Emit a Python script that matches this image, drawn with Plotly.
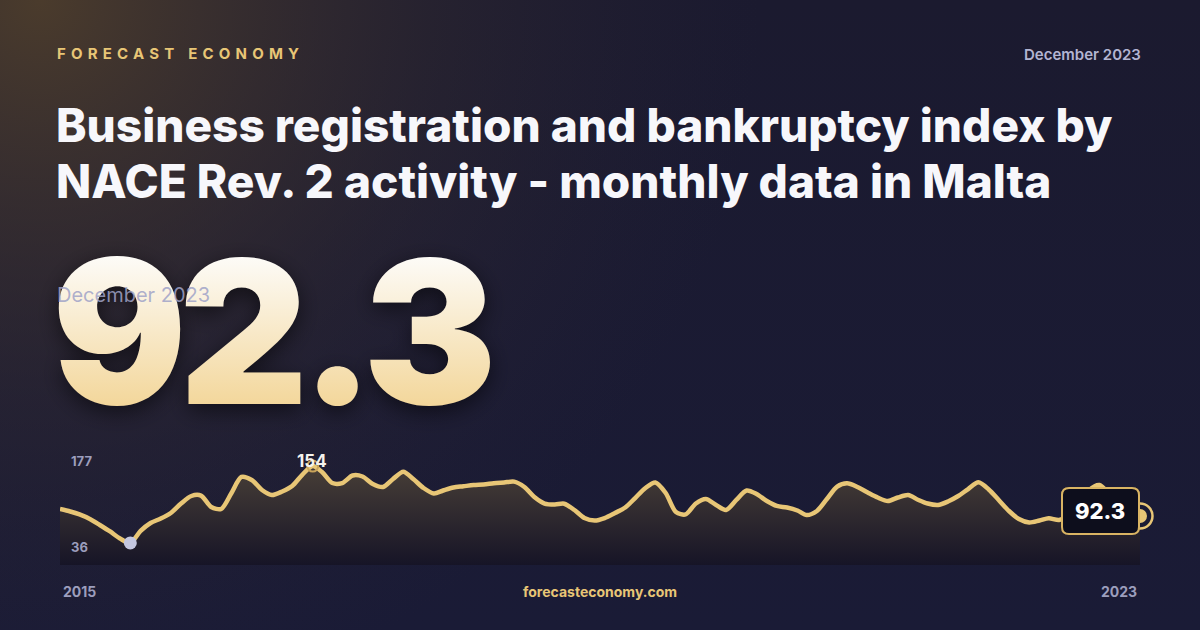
import base64
import pandas as pd
import plotly.graph_objects as go

# ---------------- data ----------------
months = pd.date_range("2015-01-01", "2023-12-01", freq="MS")
index_values = [
    101.0, 97.9, 94.2, 88.6, 81.2, 73.2, 64.5, 59.0, 73.8, 83.7,
    89.2, 96.0, 107.7, 117.0, 117.5, 103.4, 101.0, 120.7, 140.5, 136.8,
    124.4, 118.2, 122.6, 129.3, 143.5, 154.0, 146.6, 133.0, 133.0, 142.3,
    141.1, 131.8, 128.1, 138.0, 147.0, 138.0, 126.9, 120.1, 123.8, 127.5,
    129.0, 130.6, 131.2, 132.7, 133.7, 134.7, 128.1, 115.8, 107.7, 106.5,
    107.5, 99.7, 89.8, 86.8, 89.8, 96.0, 102.8, 114.5, 126.9, 133.7,
    120.7, 97.2, 94.2, 107.7, 113.3, 105.9, 99.7, 112.1, 123.8, 119.5,
    110.8, 104.7, 102.8, 99.1, 93.5, 98.5, 113.3, 128.7, 132.7, 128.1,
    121.3, 115.1, 110.8, 115.1, 118.2, 112.1, 107.7, 105.9, 110.2, 117.0,
    125.6, 133.9, 125.0, 112.1, 98.5, 88.6, 84.3, 86.8, 89.5, 87.4,
    93.5, 105.9, 124.4, 130.6, 118.2, 102.2, 93.5, 92.3,
]
brand_label = "FORECAST ECONOMY"
period_label = "December 2023"
title_lines = ["Business registration and bankruptcy index by",
               "NACE Rev. 2 activity - monthly data in Malta"]
latest_value_text = "92.3"
axis_top_label = "177"
axis_bottom_label = "36"
start_year_label = "2015"
end_year_label = "2023"
site_label = "forecasteconomy.com"

W, H = 1200, 630
GOLD = "#e8c676"
MUTED = "#9c9ebd"


def px(x):
    return x / W


def py(y):
    return 1 - y / H


# ---------------- background ----------------
bg_svg = """<svg xmlns='http://www.w3.org/2000/svg' width='1200' height='630' viewBox='0 0 1200 630'>
<defs>
<linearGradient id='b' x1='0' y1='0' x2='0' y2='1'>
<stop offset='0' stop-color='#1b1a2f'/><stop offset='1' stop-color='#1a1b36'/></linearGradient>
<radialGradient id='r' cx='40' cy='0' r='720' gradientUnits='userSpaceOnUse'>
<stop offset='0' stop-color='#4d3d2c' stop-opacity='0.95'/>
<stop offset='0.55' stop-color='#3a3030' stop-opacity='0.35'/>
<stop offset='1' stop-color='#2a2535' stop-opacity='0'/></radialGradient>
</defs>
<rect width='1200' height='630' fill='url(#b)'/>
<rect width='1200' height='630' fill='url(#r)'/>
</svg>"""
bg_uri = "data:image/svg+xml;base64," + base64.b64encode(bg_svg.encode()).decode()

fig = go.Figure()

# area + line
fig.add_trace(go.Scatter(
    x=months, y=index_values, mode="lines",
    line=dict(color=GOLD, width=4.5, shape="spline", smoothing=0.8),
    fill="tozeroy",
    fillgradient=dict(type="vertical", start=31.8, stop=160,
                      colorscale=[[0, "rgba(22,20,38,0.95)"], [1, "rgba(76,66,56,0.97)"]]),
    hoverinfo="skip", showlegend=False,
))

# min marker
imin = index_values.index(min(index_values))
fig.add_trace(go.Scatter(
    x=[months[imin]], y=[index_values[imin]], mode="markers",
    marker=dict(size=13, color="#c4c7e0"), cliponaxis=False,
    hoverinfo="skip", showlegend=False,
))
# max marker (ring)
imax = index_values.index(max(index_values))
fig.add_trace(go.Scatter(
    x=[months[imax]], y=[index_values[imax]], mode="markers",
    marker=dict(size=11, color="rgba(0,0,0,0)", line=dict(color="#c9a45a", width=2)),
    cliponaxis=False, hoverinfo="skip", showlegend=False,
))
# last point marker: ring
fig.add_trace(go.Scatter(
    x=[months[-1]], y=[index_values[-1]], mode="markers",
    marker=dict(size=25, symbol="circle", color="rgba(0,0,0,0)", line=dict(color=GOLD, width=2.5)),
    cliponaxis=False, hoverinfo="skip", showlegend=False,
))

# rounded box for latest value (path in paper coords)
bx0, bx1, by0, by1, r = 1062, 1139, 488, 534, 7
rx, ry = r / W, r / H
path = (f"M {px(bx0)+rx},{py(by0)} L {px(bx1)-rx},{py(by0)} "
        f"Q {px(bx1)},{py(by0)} {px(bx1)},{py(by0)-ry} "
        f"L {px(bx1)},{py(by1)+ry} Q {px(bx1)},{py(by1)} {px(bx1)-rx},{py(by1)} "
        f"L {px(bx0)+rx},{py(by1)} Q {px(bx0)},{py(by1)} {px(bx0)},{py(by1)+ry} "
        f"L {px(bx0)},{py(by0)-ry} Q {px(bx0)},{py(by0)} {px(bx0)+rx},{py(by0)} Z")
fig.add_shape(type="path", path=path, xref="paper", yref="paper",
              fillcolor="#0d0e1c", line=dict(color="#d9b463", width=2), layer="above")

fig.add_trace(go.Scatter(
    x=[months[-1]], y=[index_values[-1]], mode="markers",
    marker=dict(size=14, symbol="circle", color=GOLD, line=dict(width=0)),
    cliponaxis=False, hoverinfo="skip", showlegend=False,
))


def ann(text, x, y, size, color, weight=400, xanchor="left", yanchor="middle",
        family="Inter, Roboto, sans-serif", **kw):
    fig.add_annotation(text=text, x=px(x), y=py(y), xref="paper", yref="paper",
                       xanchor=xanchor, yanchor=yanchor, showarrow=False,
                       font=dict(size=size, color=color, family=family, weight=weight),
                       **kw)


# header
ann(f'<span style="letter-spacing:5.2px">{brand_label}</span>', 55, 53, 15, GOLD, 700)
ann(period_label, 1143, 54, 15, "#b3b5d2", 600, xanchor="right")
ann(title_lines[0], 54, 125, 46, "#f7f7fb", 800)
ann(title_lines[1], 54, 180.5, 46, "#f7f7fb", 800)

# big number
ann(f'<span style="letter-spacing:-8px">{latest_value_text}</span>', 50, 331, 200,
    "#f6e6bf", 900, family="Inter, sans-serif")
fig.layout.annotations[-1].font.shadow = "0px 6px 22px rgba(0,0,0,0.55)"
ann(period_label, 55, 295, 20, "rgba(160,163,200,0.85)", 400)

# chart labels
ann(axis_top_label, 69, 461, 13, MUTED, 700)
ann(axis_bottom_label, 69, 547, 13, MUTED, 700)
ann(str(int(max(index_values))), 312, 461, 17, "#f5f3ee", 700, xanchor="center")
ann(latest_value_text, 1100, 511, 22, "#ffffff", 800, xanchor="center")

# footer
ann(start_year_label, 61, 591, 14, MUTED, 700)
ann(site_label, 600, 591, 14, GOLD, 700, xanchor="center")
ann(end_year_label, 1139, 591, 14, MUTED, 700, xanchor="right")

fig.update_layout(
    width=W, height=H, margin=dict(l=0, r=0, t=0, b=0),
    paper_bgcolor="#1a1b35", plot_bgcolor="rgba(0,0,0,0)",
    images=[dict(source=bg_uri, xref="paper", yref="paper", x=0, y=1,
                 sizex=1, sizey=1, sizing="stretch", layer="below")],
    xaxis=dict(domain=[px(60), px(1140)], range=[months[0], months[-1]],
               visible=False, fixedrange=True),
    yaxis=dict(domain=[py(565), py(447.4)], range=[31.8, 177],
               visible=False, fixedrange=True),
    showlegend=False,
)

post = """
(function(){
  document.body.style.margin = '0';
  document.body.style.background = '#1a1b35';
  var gd = document.getElementById('{plot_id}');
  var ns = 'http://www.w3.org/2000/svg';
  var svg = gd.querySelector('svg.main-svg');
  var defs = svg.querySelector('defs');
  if(!defs){ defs = document.createElementNS(ns,'defs'); svg.insertBefore(defs, svg.firstChild); }
  var lg = document.createElementNS(ns,'linearGradient');
  lg.setAttribute('id','bigNumGrad');
  lg.setAttribute('x1','0'); lg.setAttribute('y1','0');
  lg.setAttribute('x2','0'); lg.setAttribute('y2','1');
  [['0.18','#fdfcf9'],['0.82','#f3d699']].forEach(function(s){
    var st = document.createElementNS(ns,'stop');
    st.setAttribute('offset', s[0]); st.setAttribute('stop-color', s[1]);
    lg.appendChild(st);
  });
  defs.appendChild(lg);
  gd.querySelectorAll('.annotation-text').forEach(function(t){
    if(parseFloat(t.style.fontSize) > 100){ t.style.fill = 'url(#bigNumGrad)'; }
  });
})();
"""

fig.write_html("out.html", config={"displayModeBar": False, "staticPlot": True},
               post_script=post)
